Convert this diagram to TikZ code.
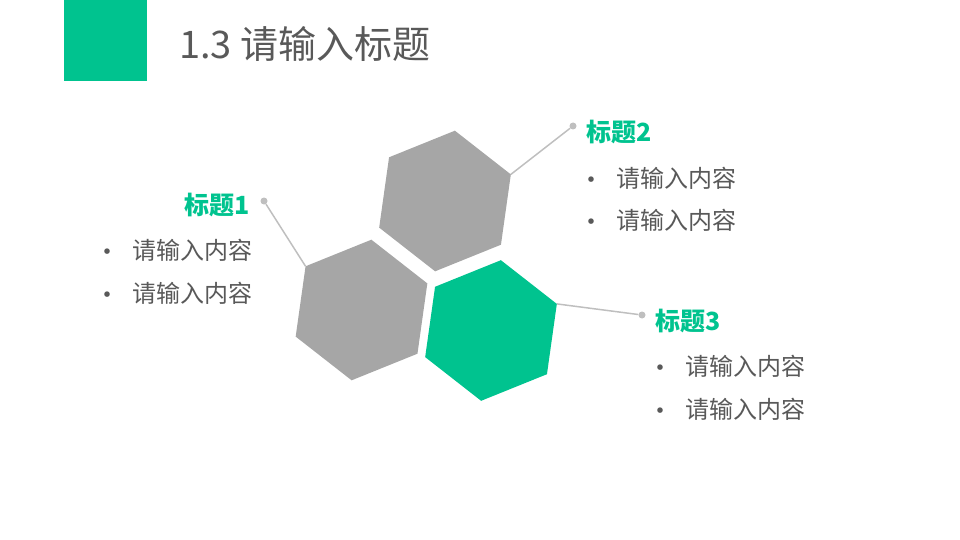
\documentclass[tikz,border=0pt]{standalone}
\usepackage{fontspec}
\setmainfont{Noto Sans CJK SC}
\usetikzlibrary{calc}

\definecolor{mint}{HTML}{00C38F}
\definecolor{hexfill}{HTML}{A6A6A6}
\definecolor{linegray}{HTML}{BFBFBF}
\definecolor{textgray}{HTML}{595959}

\begin{document}
\begin{tikzpicture}[x = 1pt, y = -1pt,
		head/.style = {inner sep = 0, text = mint, font = \fontsize{25}{30}\selectfont\bfseries},
		item/.style = {inner sep = 0, text = textgray, font = \fontsize{24}{28}\selectfont},
		bul/.style = {item, font = \fontsize{26}{28}\selectfont},
		dot/.style = {circle, fill = linegray, inner sep = 0, minimum size = 7pt},
		link/.style = {draw = linegray, line width = 1.5pt}]
						\useasboundingbox (0,0) rectangle (960,540);
						\begin{scope}
							\fill [mint] (64,0) rectangle (147,81);
							\node [right, inner sep = 0, text = textgray, font = \fontsize{38}{44}\selectfont] (title) at (179,44) {1.3 请输入标题};
						\end{scope}
						\begin{scope}
							\coordinate (hexA) at (445,201);
							\coordinate (hexB) at (361.5,310);
							\coordinate (hexC) at (491,330.5);
							\foreach \c/\col in {hexA/hexfill, hexB/hexfill, hexC/mint}
								\fill [\col] ($(\c)+(38:71)$) \foreach \a in {98,158,...,338} {-- ($(\c)+(\a:71)$)} -- cycle;
							\coordinate (linkB) at ($(hexB)+(218:71)$);
							\coordinate (linkA) at ($(hexA)+(338:71)$);
							\coordinate (linkC) at ($(hexC)+(338:71)$);
						\end{scope}
						\begin{scope}
							\node [dot] (dotB) at (264,201) {};
							\node [dot] (dotA) at (573,126) {};
							\node [dot] (dotC) at (642,315) {};
							\draw [link] (linkB) -- (dotB);
							\draw [link] (linkA) -- (dotA);
							\draw [link] (linkC) -- (dotC);
						\end{scope}
						\begin{scope}
							\node [head, left] (headB) at (250,205) {标题1};
							\node [head, right] (headA) at (586,132) {标题2};
							\node [head, right] (headC) at (655,321) {标题3};
							\foreach \n/\y in {1/250, 2/293} {
								\node [bul] (bulB\n) at (107,\y+5) {•};
								\node [item, right] (itemB\n) at (132,\y) {请输入内容};
							}
							\foreach \n/\y in {1/178, 2/220} {
								\node [bul] (bulA\n) at (591,\y+5) {•};
								\node [item, right] (itemA\n) at (616,\y) {请输入内容};
							}
							\foreach \n/\y in {1/366, 2/409} {
								\node [bul] (bulC\n) at (660,\y+5) {•};
								\node [item, right] (itemC\n) at (685,\y) {请输入内容};
							}
						\end{scope}
					\end{tikzpicture}
\end{document}
